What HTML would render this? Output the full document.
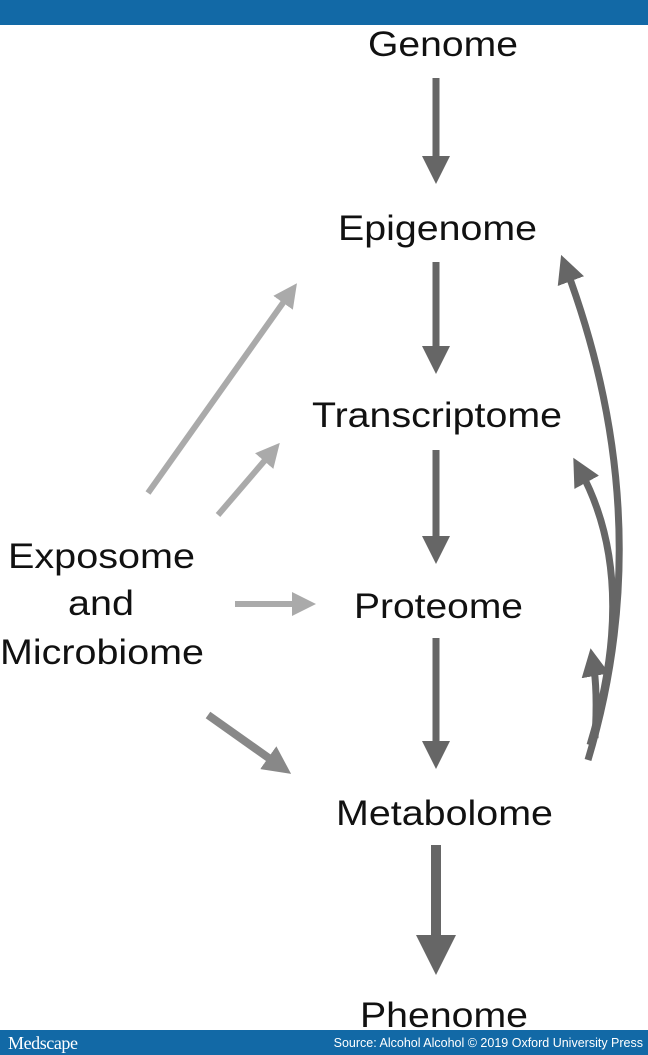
<!DOCTYPE html>
<html><head><style>
body{margin:0;width:648px;height:1055px;background:#fff;overflow:hidden;font-family:"Liberation Sans",sans-serif}
</style></head><body>
<svg width="648" height="1055" xmlns="http://www.w3.org/2000/svg" style="position:absolute;left:0;top:0">
<defs>
<marker id="hd" markerWidth="4" markerHeight="4" refX="2" refY="2" orient="auto" markerUnits="strokeWidth"><path d="M0,0 L4,2 L0,4 z" fill="#666"/></marker>
<marker id="hl" markerWidth="4" markerHeight="4" refX="2" refY="2" orient="auto" markerUnits="strokeWidth"><path d="M0,0 L4,2 L0,4 z" fill="#aaa"/></marker>
<marker id="hm" markerWidth="3.5" markerHeight="3.5" refX="1.8" refY="1.75" orient="auto" markerUnits="strokeWidth"><path d="M0,0 L3.5,1.75 L0,3.5 z" fill="#888"/></marker>
</defs>
<rect x="0" y="0" width="648" height="25" fill="#1269a6"/>
<rect x="0" y="1030" width="648" height="25" fill="#1269a6"/>
<text x="8" y="1049" font-family="Liberation Serif" font-size="18" fill="#fff" textLength="70">Medscape</text>
<text x="643" y="1047" text-anchor="end" font-size="12.5" fill="#fff">Source: Alcohol Alcohol © 2019 Oxford University Press</text>
<g font-size="35" fill="#111" lengthAdjust="spacingAndGlyphs">
<text x="368" y="56" textLength="150" lengthAdjust="spacingAndGlyphs">Genome</text>
<text x="338" y="240" textLength="199" lengthAdjust="spacingAndGlyphs">Epigenome</text>
<text x="312" y="427" textLength="250" lengthAdjust="spacingAndGlyphs">Transcriptome</text>
<text x="354" y="618" textLength="169" lengthAdjust="spacingAndGlyphs">Proteome</text>
<text x="336" y="825" textLength="217" lengthAdjust="spacingAndGlyphs">Metabolome</text>
<text x="360" y="1027" textLength="168" lengthAdjust="spacingAndGlyphs">Phenome</text>
<text x="8" y="568" textLength="187" lengthAdjust="spacingAndGlyphs">Exposome</text>
<text x="68" y="615" textLength="66" lengthAdjust="spacingAndGlyphs">and</text>
<text x="0" y="664" textLength="204" lengthAdjust="spacingAndGlyphs">Microbiome</text>
</g>
<g stroke="#666" stroke-width="7" fill="none">
<line x1="436" y1="78" x2="436" y2="170" marker-end="url(#hd)"/>
<line x1="436" y1="262" x2="436" y2="360" marker-end="url(#hd)"/>
<line x1="436" y1="450" x2="436" y2="550" marker-end="url(#hd)"/>
<line x1="436" y1="638" x2="436" y2="755" marker-end="url(#hd)"/>
<line x1="436" y1="845" x2="436" y2="955" stroke-width="10" marker-end="url(#hd)"/>
<path d="M588,760 Q660,520 566,268" marker-end="url(#hd)"/>
<path d="M590,745 Q640,580 580,470" marker-end="url(#hd)"/>
<path d="M595,738 Q598,690 593,662" marker-end="url(#hd)"/>
</g>
<g stroke="#aaa" stroke-width="6" fill="none">
<line x1="148" y1="493" x2="290" y2="293" marker-end="url(#hl)"/>
<line x1="218" y1="515" x2="272" y2="452" marker-end="url(#hl)"/>
<line x1="235" y1="604" x2="304" y2="604" marker-end="url(#hl)"/>
</g>
<line x1="208" y1="715" x2="280" y2="766" stroke="#888" stroke-width="8" marker-end="url(#hm)"/>
</svg>
</body></html>
